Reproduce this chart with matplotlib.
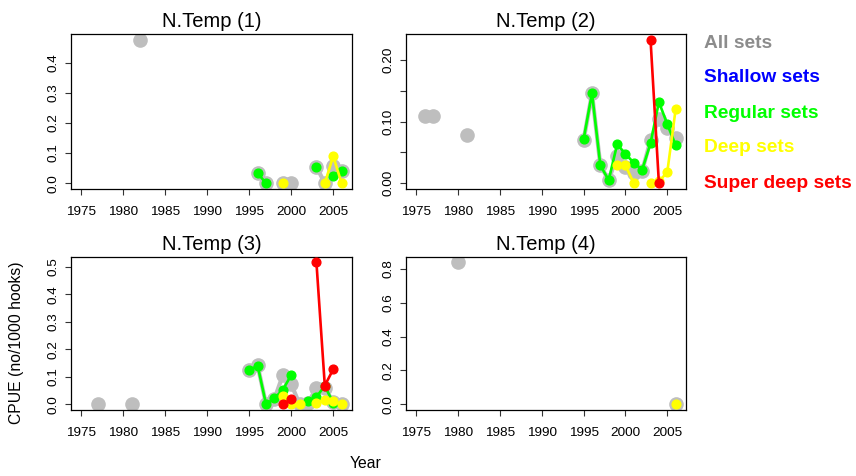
import numpy as np
import matplotlib
matplotlib.use("Agg")
import matplotlib.pyplot as plt

plt.rcParams['font.family'] = ['Liberation Sans', 'DejaVu Sans']

# ---------------- data ----------------
titles = ["N.Temp (1)", "N.Temp (2)", "N.Temp (3)", "N.Temp (4)"]

# Panel 1
p1_all_years = [1982, 1996, 1997, 1999, 2000, 2003, 2004, 2005, 2006]
p1_all_vals = [0.476, 0.033, 0.0, 0.0, 0.0, 0.055, 0.0, 0.058, 0.04]
p1_reg_years = [1996, 1997, 2003, 2005, 2006]
p1_reg_vals = [0.033, 0.0, 0.055, 0.025, 0.041]
p1_deep_years = [1999, 2004, 2005, 2006]
p1_deep_vals = [0.0, 0.0, 0.09, 0.0]
p1_sdeep_years = []
p1_sdeep_vals = []

# Panel 2
p2_all_years = [1976, 1977, 1981, 1995, 1996, 1997, 1998, 1999, 2000, 2001, 2002, 2003, 2004, 2005, 2006]
p2_all_vals = [0.109, 0.110, 0.079, 0.070, 0.146, 0.029, 0.005, 0.045, 0.027, 0.016, 0.020, 0.070, 0.105, 0.089, 0.073]
p2_reg_years = [1995, 1996, 1997, 1998, 1999, 2000, 2001, 2002, 2003, 2004, 2005, 2006]
p2_reg_vals = [0.072, 0.146, 0.029, 0.005, 0.063, 0.048, 0.033, 0.022, 0.065, 0.132, 0.096, 0.062]
p2_deep_years = [1999, 2000, 2001, 2003, 2004, 2005, 2006]
p2_deep_vals = [0.029, 0.029, 0.0, 0.0, 0.003, 0.018, 0.120]
p2_sdeep_years = [2003, 2004]
p2_sdeep_vals = [0.233, 0.0]

# Panel 3
p3_all_years = [1977, 1981, 1995, 1996, 1997, 1998, 1999, 2000, 2001, 2002, 2003, 2004, 2005, 2006]
p3_all_vals = [0.0, 0.0, 0.124, 0.141, 0.0, 0.020, 0.106, 0.073, 0.0, 0.005, 0.059, 0.058, 0.010, 0.0]
p3_reg_years = [1995, 1996, 1997, 1998, 1999, 2000, 2002, 2003, 2004, 2005]
p3_reg_vals = [0.124, 0.140, 0.0, 0.022, 0.053, 0.106, 0.011, 0.027, 0.067, 0.005]
p3_deep_years = [1999, 2000, 2001, 2003, 2004, 2005, 2006]
p3_deep_vals = [0.029, 0.0, 0.0, 0.005, 0.015, 0.011, 0.0]
p3_sdeep_years = [1999, 2000, 2003, 2004, 2005]
p3_sdeep_vals = [0.0, 0.019, 0.516, 0.068, 0.127]

# Panel 4
p4_all_years = [1980, 2006]
p4_all_vals = [0.84, 0.0]
p4_reg_years = []
p4_reg_vals = []
p4_deep_years = [2006]
p4_deep_vals = [0.0]
p4_sdeep_years = []
p4_sdeep_vals = []

x_ticks = [1975, 1980, 1985, 1990, 1995, 2000, 2005]
y_ticks = [
    [0.0, 0.1, 0.2, 0.3, 0.4],
    [0.0, 0.05, 0.10, 0.15, 0.20],
    [0.0, 0.1, 0.2, 0.3, 0.4, 0.5],
    [0.0, 0.2, 0.4, 0.6, 0.8],
]
y_ticklabels = [
    ["0.0", "0.1", "0.2", "0.3", "0.4"],
    ["0.00", "", "0.10", "", "0.20"],
    ["0.0", "0.1", "0.2", "0.3", "0.4", "0.5"],
    ["0.0", "0.2", "0.4", "0.6", "0.8"],
]

legend_labels = ["All sets", "Shallow sets", "Regular sets", "Deep sets", "Super deep sets"]
legend_colors = ["#8C8C8C", "#0000FF", "#00FF00", "#FFFF00", "#FF0000"]

panels = [
    (p1_all_years, p1_all_vals, p1_reg_years, p1_reg_vals, p1_deep_years, p1_deep_vals, p1_sdeep_years, p1_sdeep_vals),
    (p2_all_years, p2_all_vals, p2_reg_years, p2_reg_vals, p2_deep_years, p2_deep_vals, p2_sdeep_years, p2_sdeep_vals),
    (p3_all_years, p3_all_vals, p3_reg_years, p3_reg_vals, p3_deep_years, p3_deep_vals, p3_sdeep_years, p3_sdeep_vals),
    (p4_all_years, p4_all_vals, p4_reg_years, p4_reg_vals, p4_deep_years, p4_deep_vals, p4_sdeep_years, p4_sdeep_vals),
]

# ---------------- layout ----------------
W, H = 856, 476
fig = plt.figure(figsize=(W / 100, H / 100), dpi=100)

boxes_px = [
    (71, 352, 34, 189),
    (406, 686, 34, 189),
    (71, 352, 256.5, 410),
    (406, 686, 256.5, 410),
]

YR0, YR1 = 1975, 2006
xr = YR1 - YR0
xlim = (YR0 - 0.04 * xr, YR1 + 0.04 * xr)


def full_series(yrs, vals):
    grid = np.arange(YR0, YR1 + 1)
    arr = np.full(grid.shape, np.nan)
    for y, v in zip(yrs, vals):
        arr[y - YR0] = v
    return grid, arr


for i, (box, pdata) in enumerate(zip(boxes_px, panels)):
    l, r, t, b = box
    ax = fig.add_axes([l / W, 1 - b / H, (r - l) / W, (b - t) / H])
    ay, av, ry, rv, dy, dv, sy, sv = pdata

    # gray "all sets"
    g, a = full_series(ay, av)
    ax.plot(g, a, color="#BEBEBE", lw=3.0, marker="o", ms=9.5, mec="#BEBEBE",
            mfc="#BEBEBE", zorder=2, solid_capstyle="round")
    for (yy, vv, col, z) in [(ry, rv, "#00FF00", 3), (dy, dv, "#FFFF00", 4), (sy, sv, "#FF0000", 5)]:
        if len(yy) == 0:
            continue
        g, a = full_series(yy, vv)
        ax.plot(g, a, color=col, lw=1.9, marker="o", ms=6.3, mec=col, mfc=col, zorder=z)

    allv = list(av) + list(rv) + list(dv) + list(sv)
    lo, hi = min(allv), max(allv)
    rng = hi - lo
    ax.set_ylim(lo - 0.04 * rng, hi + 0.04 * rng)
    ax.set_xlim(*xlim)

    ax.set_xticks(x_ticks)
    ax.set_xticklabels([str(x) for x in x_ticks], fontsize=9.7)
    ax.set_yticks(y_ticks[i])
    ax.set_yticklabels(y_ticklabels[i], fontsize=9.7, rotation=90, va="center")
    ax.tick_params(axis="both", direction="out", length=4.5, width=0.8, color="#333333")
    ax.tick_params(axis="x", pad=8)
    ax.tick_params(axis="y", pad=3.5)
    for sp in ax.spines.values():
        sp.set_linewidth(0.9)
    ax.set_title(titles[i], fontsize=14.5, pad=5)

# legend text
leg_y = [43, 78, 113, 148, 183]
for lab, col, yy in zip(legend_labels, legend_colors, leg_y):
    fig.text(704 / W, 1 - yy / H, lab, color=col, fontsize=13.8, fontweight="bold",
             ha="left", va="center")

fig.text(17 / W, 1 - 343 / H, "CPUE (no/1000 hooks)", rotation=90, fontsize=11.3,
         ha="center", va="center")
fig.text(366 / W, 1 - 464 / H, "Year", fontsize=11.3, ha="center", va="center")

fig.savefig("out.png", dpi=100)
